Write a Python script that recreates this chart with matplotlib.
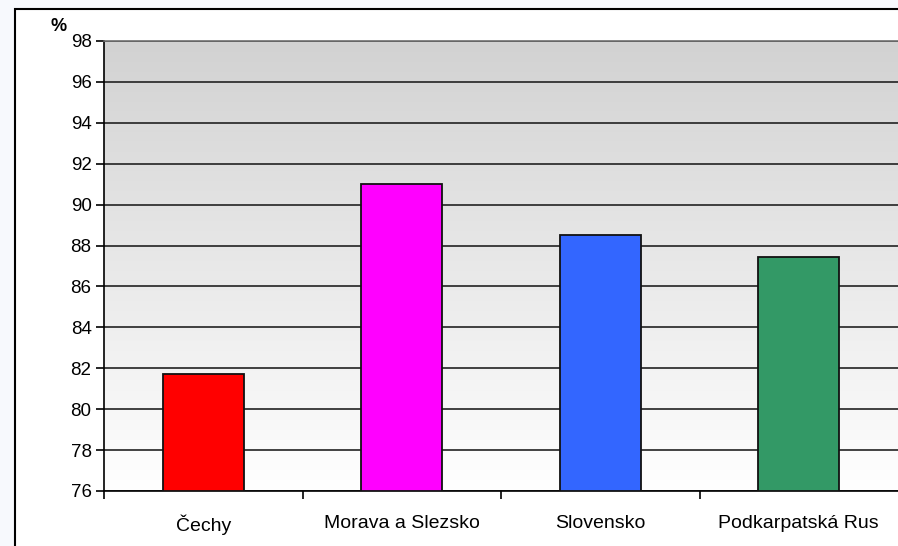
import matplotlib
matplotlib.use("Agg")
import matplotlib.pyplot as plt
import numpy as np
from matplotlib.patches import Rectangle
from matplotlib.colors import LinearSegmentedColormap

categories = ["Čechy", "Morava a Slezsko", "Slovensko", "Podkarpatská Rus"]
values = [81.7, 91.0, 88.5, 87.45]
colors = ["#ff0000", "#ff00ff", "#3366ff", "#339966"]
yticks = list(range(76, 99, 2))

plt.rcParams['font.family'] = ['Liberation Sans', 'DejaVu Sans']

fig = plt.figure(figsize=(8.98, 5.46), dpi=100)
fig.patch.set_facecolor("#f7f9fd")

W, H = 898, 546
# outer chart border (white area with black frame, cropped at right/bottom)
border = Rectangle((15 / W, -0.1), 1, 1.1 - 9 / H, transform=fig.transFigure,
                   facecolor="white", edgecolor="black", linewidth=1.5, zorder=0)
fig.add_artist(border)

ax = fig.add_axes([104 / W, 1 - 491 / H, 1 - 104 / W, (491 - 41) / H])
ax.set_zorder(2)

# gradient background
grad = np.linspace(0, 1, 256).reshape(-1, 1)
cmap = LinearSegmentedColormap.from_list("g", ["#d2d2d2", "#ffffff"])
ax.imshow(grad, extent=[-0.5, 3.5, 76, 98], aspect="auto", cmap=cmap, zorder=0,
          origin="upper")
ax.set_ylim(76, 98)
ax.set_xlim(-0.5, 3.5)

ax.bar(range(len(categories)), [v - 76 for v in values], bottom=76, width=0.41,
       color=colors, edgecolor="#111111", linewidth=1.3, zorder=3)

ax.set_yticks(yticks)
ax.set_yticklabels([str(t) for t in yticks], fontsize=13.5)
ax.yaxis.grid(True, color="#222222", linewidth=1.2)
for gl in ax.get_ygridlines():
    gl.set_zorder(1)

ax.set_xticks(range(len(categories)))
ax.set_xticklabels(categories, fontsize=14)
ax.tick_params(axis="x", which="major", length=0, pad=17)
ax.set_xticks([-0.5, 0.5, 1.5, 2.5], minor=True)
ax.tick_params(axis="x", which="minor", length=6, width=1.2, direction="out")
ax.tick_params(axis="y", length=6, width=1.2, direction="out", pad=3)

ax.spines["right"].set_visible(False)
ax.spines["top"].set_color("#707070")
ax.spines["top"].set_linewidth(1.2)
ax.spines["left"].set_linewidth(1.2)
ax.spines["bottom"].set_linewidth(1.2)

fig.text(59 / W, 1 - 26.5 / H, "%", fontsize=13, fontweight="bold", ha="center", va="center")

fig.savefig("out.png", dpi=100, facecolor=fig.get_facecolor())
